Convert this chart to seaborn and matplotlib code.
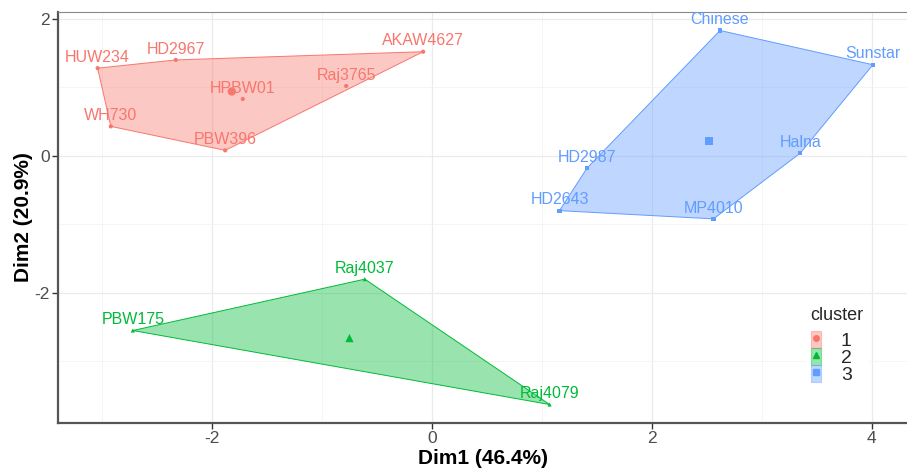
import numpy as np
import pandas as pd
import matplotlib
matplotlib.use("Agg")
import matplotlib.pyplot as plt
from matplotlib.patches import Patch, Polygon
from matplotlib.lines import Line2D
from matplotlib.legend_handler import HandlerTuple
import seaborn as sns

# ---- data ----
names = ["HUW234", "HD2967", "AKAW4627", "Raj3765", "HPBW01", "WH730", "PBW396",
         "Raj4037", "PBW175", "Raj4079",
         "Chinese", "Sunstar", "Halna", "MP4010", "HD2643", "HD2987"]
dim1 = [-3.04, -2.33, -0.08, -0.78, -1.72, -2.92, -1.88,
        -0.61, -2.72, 1.07,
        2.62, 4.01, 3.35, 2.56, 1.16, 1.41]
dim2 = [1.28, 1.40, 1.52, 1.02, 0.83, 0.43, 0.08,
        -1.80, -2.55, -3.63,
        1.83, 1.33, 0.04, -0.92, -0.80, -0.18]
cluster = ["1"] * 7 + ["2"] * 3 + ["3"] * 6
cent_cluster = ["1", "2", "3"]
cent_dim1 = [-1.82, -0.75, 2.52]
cent_dim2 = [0.94, -2.66, 0.22]
xlabel = "Dim1 (46.4%)"
ylabel = "Dim2 (20.9%)"
x_ticks = [-2, 0, 2, 4]
y_ticks = [-2, 0, 2]

df = pd.DataFrame({"name": names, "Dim1": dim1, "Dim2": dim2, "cluster": cluster})
cent = pd.DataFrame({"cluster": cent_cluster, "Dim1": cent_dim1, "Dim2": cent_dim2})

colors = {"1": "#F8766D", "2": "#00BA38", "3": "#619CFF"}
markers = {"1": "o", "2": "^", "3": "s"}

sns.set_theme(style="white")
plt.rcParams["font.family"] = ["Liberation Sans", "DejaVu Sans"]
plt.rcParams["axes.unicode_minus"] = False

fig = plt.figure(figsize=(9.07, 4.70), dpi=100)
ax = fig.add_axes([0.064, 0.1, 0.936, 0.8745])


def hull(points):
    pts = sorted(set(points))
    if len(pts) <= 2:
        return pts
    def cross(o, a, b):
        return (a[0] - o[0]) * (b[1] - o[1]) - (a[1] - o[1]) * (b[0] - o[0])
    lower, upper = [], []
    for p in pts:
        while len(lower) >= 2 and cross(lower[-2], lower[-1], p) <= 0:
            lower.pop()
        lower.append(p)
    for p in reversed(pts):
        while len(upper) >= 2 and cross(upper[-2], upper[-1], p) <= 0:
            upper.pop()
        upper.append(p)
    return lower[:-1] + upper[:-1]


for c in cent_cluster:
    sub = df[df.cluster == c]
    h = hull(list(zip(sub.Dim1, sub.Dim2)))
    ax.add_patch(Polygon(h, closed=True, facecolor=colors[c], alpha=0.4,
                         edgecolor="none", zorder=2))
    ax.add_patch(Polygon(h, closed=True, facecolor="none", edgecolor=colors[c],
                         linewidth=0.7, zorder=3))

sns.scatterplot(data=df, x="Dim1", y="Dim2", hue="cluster", style="cluster",
                palette=colors, markers=markers, s=9, linewidth=0,
                legend=False, ax=ax, zorder=4)
sns.scatterplot(data=cent, x="Dim1", y="Dim2", hue="cluster", style="cluster",
                palette=colors, markers=markers, s=36, linewidth=0,
                legend=False, ax=ax, zorder=4)

for _, r in df.iterrows():
    ax.annotate(r["name"], (r.Dim1, r.Dim2), xytext=(0, 4.5),
                textcoords="offset points", ha="center", va="baseline",
                fontsize=11.5, color=colors[r.cluster], zorder=5)

ax.set_xlim(-3.4, 4.32)
ax.set_ylim(-3.9, 2.1)
ax.set_xticks(x_ticks)
ax.set_yticks(y_ticks)
ax.set_xticks([-3, -1, 1, 3], minor=True)
ax.set_yticks([-3, -1, 1], minor=True)
ax.grid(True, which="major", color="#EBEBEB", linewidth=0.9)
ax.grid(True, which="minor", color="#F2F2F2", linewidth=0.5)
ax.set_axisbelow(True)

for s in ["left", "bottom"]:
    ax.spines[s].set_color("#555555")
    ax.spines[s].set_linewidth(1.6)
ax.spines["top"].set_color("#888888")
ax.spines["top"].set_linewidth(0.8)
ax.spines["right"].set_visible(False)

ax.tick_params(axis="both", which="major", length=4, width=1, color="#333333",
               labelsize=12.5, labelcolor="#4D4D4D", left=True, bottom=True,
               pad=2)
ax.tick_params(axis="both", which="minor", length=0)

ax.set_xlabel(xlabel, fontsize=15, fontweight="bold", color="black", labelpad=2)
ax.set_ylabel(ylabel, fontsize=15, fontweight="bold", color="black", labelpad=1)

handles = []
for c in cent_cluster:
    handles.append((Patch(facecolor=colors[c], alpha=0.4, edgecolor=colors[c],
                          linewidth=0.8),
                    Line2D([], [], marker=markers[c], color=colors[c],
                           linestyle="none", markersize=4)))
leg = ax.legend(handles, cent_cluster, title="cluster",
                handler_map={tuple: HandlerTuple(ndivide=1)},
                loc="upper left", bbox_to_anchor=(796 / 907, 1 - 292 / 470),
                bbox_transform=fig.transFigure, frameon=True, facecolor="white",
                edgecolor="none", fontsize=14, title_fontsize=13,
                handlelength=0.55, handleheight=1.0, handletextpad=1.0,
                labelspacing=-0.12, borderpad=0.25, alignment="left")
leg.get_frame().set_alpha(1)
try:
    leg._legend_box.sep = 5
except Exception:
    pass

fig.savefig("out.png", dpi=100, facecolor="white")
